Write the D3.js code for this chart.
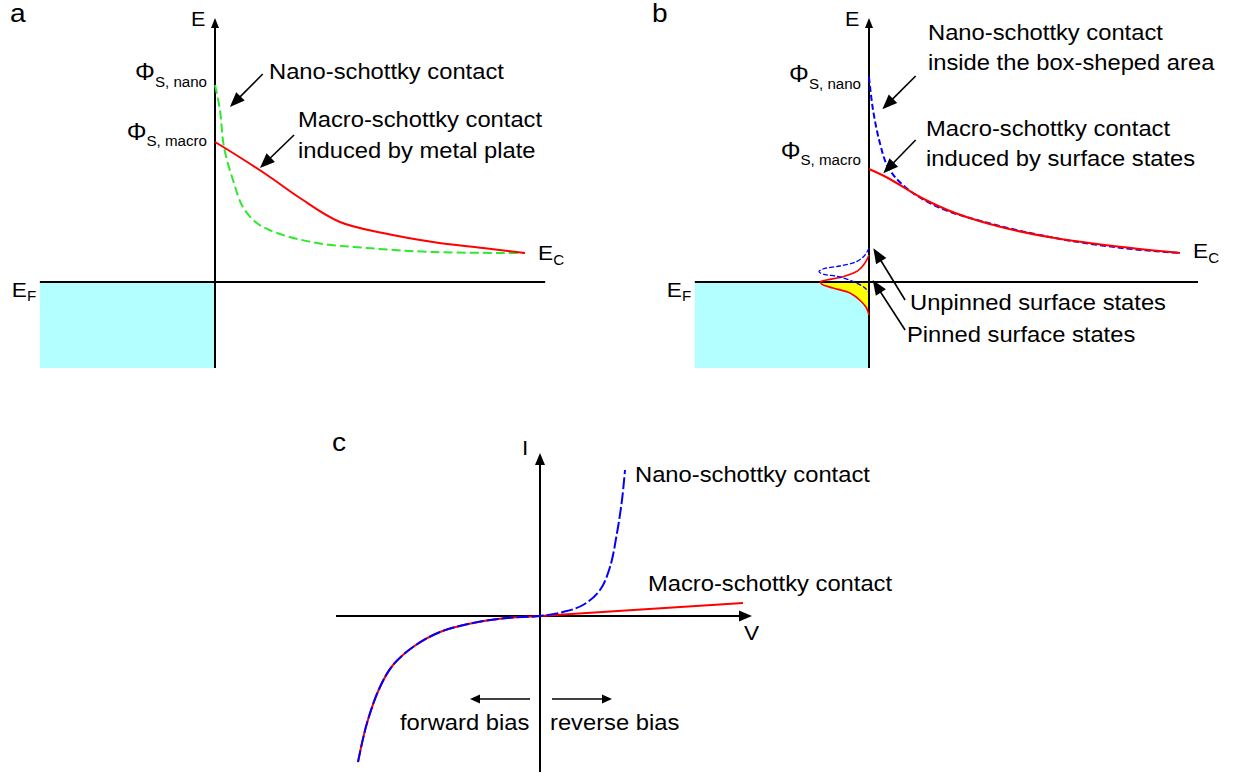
<!DOCTYPE html>
<html>
<head>
<meta charset="utf-8">
<script src="https://cdn.jsdelivr.net/npm/d3@7"></script>
<style>
  body { margin: 0; background: #fff; }
  svg { display: block; font-family: "Liberation Sans", Arial, Helvetica, sans-serif; }
</style>
</head>
<body>
<svg id="fig" width="1233" height="778"></svg>
<script>
// ---------- (a) band bending: distance from interface (a.u.) vs energy (E_F = 0) ----------
const aNanoDist  = [0, 1.6, 2.9, 5.8, 9.0, 13.5, 20, 32.9, 49, 70.3, 100];
const aNanoE     = [1.97, 1.72, 1.35, 1.02, 0.75, 0.59, 0.49, 0.39, 0.34, 0.30, 0.29];
const aMacroDist = [0, 5.8, 16.8, 27.4, 40.3, 54.2, 70.3, 86.5, 100];
const aMacroE    = [1.40, 1.29, 1.07, 0.84, 0.60, 0.49, 0.40, 0.34, 0.29];

// ---------- (b) band bending with surface states ----------
const bNanoDist  = [0, 1.3, 3.5, 6.1, 11.6, 22.2, 38.3, 59.8, 81.4, 100];
const bNanoE     = [2.05, 1.72, 1.39, 1.15, 0.95, 0.75, 0.59, 0.44, 0.34, 0.29];
const bMacroDist = [0, 6.1, 17.0, 27.7, 43.7, 59.8, 81.4, 100];
const bMacroE    = [1.13, 1.04, 0.84, 0.69, 0.54, 0.44, 0.35, 0.29];

// surface-state density of states (energy, relative density)
const unpinnedE   = [0.34, 0.27, 0.203, 0.16, 0.13, 0.103, 0.08, 0.05, -0.01, -0.06, -0.11];
const unpinnedDOS = [0, 0.08, 0.25, 0.58, 0.92, 1.0, 0.92, 0.58, 0.25, 0.08, 0];
const pinnedE     = [0.27, 0.19, 0.113, 0.053, 0.02, 0.003, -0.02, -0.06, -0.11, -0.197, -0.26, -0.33];
const pinnedDOS   = [0, 0.08, 0.22, 0.52, 0.85, 0.97, 0.95, 0.72, 0.38, 0.15, 0.05, 0];

// ---------- (c) I-V characteristics ----------
const forwardV      = [-1.82, -1.73, -1.60, -1.47, -1.27, -1.00, -0.67, -0.33, 0];
const forwardI      = [-1.46, -1.07, -0.71, -0.49, -0.31, -0.16, -0.07, -0.02, 0];
const nanoReverseV  = [0, 0.23, 0.43, 0.60, 0.70, 0.77, 0.82, 0.85];
const nanoReverseI  = [0, 0.04, 0.11, 0.26, 0.49, 0.83, 1.16, 1.46];
const macroReverseV = [0, 2.03];
const macroReverseI = [0, 0.13];

// ---------- palette ----------
const METAL = "#b3ffff", RED = "#ff0000", GREEN = "#2ee82e", BLUE = "#0000ff", YELLOW = "#ffff00";
const STRETCH = 1.08;

const svg = d3.select("#fig");
const zip = (xs, ys) => xs.map((x, i) => [x, ys[i]]);

function label(g, x, y, parts, anchor = "start") {
  const t = g.append("text")
    .attr("transform", `translate(${x},${y}) scale(${STRETCH},1)`)
    .attr("text-anchor", anchor)
    .attr("fill", "#000");
  parts.forEach(p => {
    t.append("tspan").attr("font-size", p.size).attr("dy", p.dy || 0).text(p.t);
  });
  return t;
}

function arrow(g, x1, y1, x2, y2, len, wid, sw) {
  const dx = x2 - x1, dy = y2 - y1, L = Math.hypot(dx, dy), ux = dx / L, uy = dy / L;
  const bx = x2 - ux * len, by = y2 - uy * len;
  g.append("line")
    .attr("x1", x1).attr("y1", y1).attr("x2", bx + ux).attr("y2", by + uy)
    .attr("stroke", "#000").attr("stroke-width", sw);
  g.append("path")
    .attr("d", `M${x2},${y2}L${bx - uy * wid / 2},${by + ux * wid / 2}L${bx + uy * wid / 2},${by - ux * wid / 2}Z`)
    .attr("fill", "#000");
}

// ---------- band diagram panel ----------
function bandPanel(opts) {
  const g = svg.append("g");
  const x = d3.scaleLinear().domain([0, 100]).range([opts.x0, opts.x1]);
  const y = d3.scaleLinear().domain([0, 1]).range([282, 182]);
  const line = d3.line().x(d => x(d[0])).y(d => y(d[1])).curve(d3.curveCatmullRom.alpha(0.5));

  // metal side, filled up to the Fermi level
  g.append("rect")
    .attr("x", x(opts.metalDist)).attr("y", y(0))
    .attr("width", x(0) - x(opts.metalDist)).attr("height", y(-0.86) - y(0))
    .attr("fill", METAL);

  if (opts.before) opts.before(g, x, y);

  // axes
  g.append("line").attr("x1", x(opts.metalDist)).attr("x2", x(opts.axisEnd))
    .attr("y1", y(0)).attr("y2", y(0)).attr("stroke", "#000").attr("stroke-width", 2);
  arrow(g, x(0), y(-0.86), x(0), y(2.64), 10, 8, 2);

  label(g, x(0) - 24, 26, [{ t: "E", size: 20 }]);
  label(g, x(opts.metalDist) - 28, 297, [{ t: "E", size: 21 }, { t: "F", size: 14, dy: 4 }]);

  opts.curves.forEach(c => {
    g.append("path").datum(zip(c.d, c.e))
      .attr("d", line).attr("fill", "none")
      .attr("stroke", c.color).attr("stroke-width", 2)
      .attr("stroke-dasharray", c.dash || null);
  });

  label(g, x(100) + 13, opts.ecY, [{ t: "E", size: 21 }, { t: "C", size: 14, dy: 5 }]);
  label(g, x(0) - 8, opts.phiNanoY, [{ t: "Φ", size: 23 }, { t: "S, nano", size: 14, dy: 7 }], "end");
  label(g, x(0) - 8, opts.phiMacroY, [{ t: "Φ", size: 23 }, { t: "S, macro", size: 14, dy: 6 }], "end");
  label(g, opts.tagX, 22, [{ t: opts.tag, size: 26 }]);

  opts.notes.forEach(n => label(g, n.x, n.y, [{ t: n.t, size: 22 }]));
  opts.arrows.forEach(a => arrow(g, x(a[0]), y(a[1]), x(a[2]), y(a[3]), 15, 12, 1.6));
  return { g, x, y };
}

// (a)
bandPanel({
  x0: 215, x1: 525, metalDist: -56.5, axisEnd: 106.5, tag: "a", tagX: 10,
  ecY: 260, phiNanoY: 80, phiMacroY: 140,
  curves: [
    { d: aNanoDist, e: aNanoE, color: GREEN, dash: "9,4" },
    { d: aMacroDist, e: aMacroE, color: RED }
  ],
  notes: [
    { t: "Nano-schottky contact", x: 269, y: 79 },
    { t: "Macro-schottky contact", x: 298, y: 127 },
    { t: "induced by metal plate", x: 298, y: 158 }
  ],
  arrows: [
    [15.4, 2.08, 4.8, 1.75],
    [25.5, 1.47, 14.5, 1.14]
  ]
});

// (b)
const pb = bandPanel({
  x0: 869, x1: 1180, metalDist: -56, axisEnd: 105.8, tag: "b", tagX: 652,
  ecY: 258, phiNanoY: 82, phiMacroY: 159,
  before: (g, x, y) => {
    // pinned states: occupied part below E_F
    const dos = d3.scaleLinear().domain([0, 1]).range([x(0), x(0) - 50]);
    const filled = zip(pinnedE, pinnedDOS).filter(d => d[0] <= 0.01);
    g.append("path").datum(filled)
      .attr("d", d3.area().y(d => y(Math.min(d[0], 0))).x0(x(0)).x1(d => dos(d[1]))
        .curve(d3.curveCatmullRom.alpha(0.5)))
      .attr("fill", YELLOW);
  },
  curves: [
    { d: bNanoDist, e: bNanoE, color: BLUE, dash: "6,3" },
    { d: bMacroDist, e: bMacroE, color: RED }
  ],
  notes: [
    { t: "Nano-schottky contact", x: 928, y: 40 },
    { t: "inside the box-sheped area", x: 928, y: 70 },
    { t: "Macro-schottky contact", x: 926, y: 136 },
    { t: "induced by surface states", x: 926, y: 166 },
    { t: "Unpinned surface states", x: 910, y: 310 },
    { t: "Pinned surface states", x: 907, y: 342 }
  ],
  arrows: [
    [15.0, 2.06, 4.3, 1.727],
    [15.0, 1.42, 4.6, 1.087],
    [11.6, -0.18, 1.4, 0.337],
    [11.6, -0.48, 1.2, 0.02]
  ]
});

// surface-state distributions drawn leftwards from the interface
{
  const { g, x, y } = pb;
  const dos = d3.scaleLinear().domain([0, 1]).range([x(0), x(0) - 50]);
  const dl = d3.line().x(d => dos(d[1])).y(d => y(d[0])).curve(d3.curveCatmullRom.alpha(0.5));
  g.append("path").datum(zip(pinnedE, pinnedDOS))
    .attr("d", dl).attr("fill", "none").attr("stroke", RED).attr("stroke-width", 1.6);
  g.append("path").datum(zip(unpinnedE, unpinnedDOS))
    .attr("d", dl).attr("fill", "none").attr("stroke", BLUE).attr("stroke-width", 1.3)
    .attr("stroke-dasharray", "5,2");
}

// ---------- (c) I-V panel ----------
{
  const g = svg.append("g");
  const x = d3.scaleLinear().domain([0, 1]).range([540, 640]);
  const y = d3.scaleLinear().domain([0, 1]).range([616, 516]);
  const line = d3.line().x(d => x(d[0])).y(d => y(d[1])).curve(d3.curveCatmullRom.alpha(0.5));

  arrow(g, x(-2.04), y(0), x(2.12), y(0), 13, 11, 2);
  arrow(g, x(0), y(-1.56), x(0), y(1.63), 12, 10, 2);

  label(g, 522, 455, [{ t: "I", size: 21 }]);
  label(g, 744, 640, [{ t: "V", size: 21 }]);
  label(g, 332, 451, [{ t: "c", size: 26 }]);

  // macro contact: shared forward branch + slow reverse branch
  g.append("path").datum(zip(forwardV, forwardI).concat(zip(macroReverseV, macroReverseI).slice(1)))
    .attr("d", line).attr("fill", "none").attr("stroke", RED).attr("stroke-width", 2);
  // nano contact
  g.append("path").datum(zip(forwardV, forwardI).concat(zip(nanoReverseV, nanoReverseI).slice(1)))
    .attr("d", line).attr("fill", "none").attr("stroke", BLUE).attr("stroke-width", 2)
    .attr("stroke-dasharray", "12,3");

  label(g, 635, 482, [{ t: "Nano-schottky contact", size: 22 }]);
  label(g, 648, 591, [{ t: "Macro-schottky contact", size: 22 }]);

  arrow(g, x(-0.10), y(-0.83), x(-0.70), y(-0.83), 10, 9, 1.6);
  arrow(g, x(0.12), y(-0.83), x(0.72), y(-0.83), 10, 9, 1.6);
  label(g, 400, 730, [{ t: "forward bias", size: 22 }]);
  label(g, 550, 730, [{ t: "reverse bias", size: 22 }]);
}
</script>
</body>
</html>
